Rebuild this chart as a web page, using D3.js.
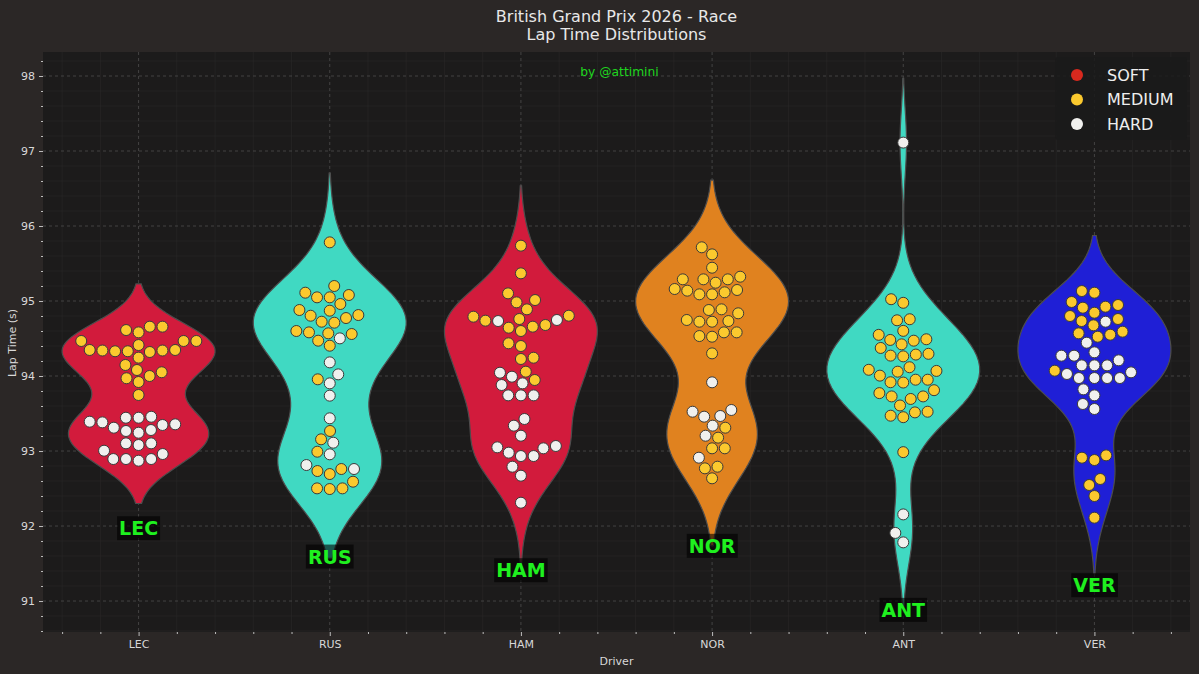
<!DOCTYPE html>
<html>
<head>
<meta charset="utf-8">
<script src="https://cdn.jsdelivr.net/npm/d3@7"></script>
<style>
  body { margin: 0; background: #2b2726; }
  svg text { font-family: "DejaVu Sans", sans-serif; }
</style>
</head>
<body>
<svg id="chart"></svg>
<script>
// ---- data ----
const drivers = ["LEC", "RUS", "HAM", "NOR", "ANT", "VER"];
const violinColors = ["#d21b3c", "#40d9c2", "#d21b3c", "#e0821f", "#40d9c2", "#1f1fd6"];
const compounds = ["SOFT", "MEDIUM", "HARD"];
const compoundColors = ["#d8291e", "#fbc92e", "#f0f0ee"];
const yTicks = [91, 92, 93, 94, 95, 96, 97, 98];

const lecMedium = [94.658, 94.658, 94.613, 94.582, 94.467, 94.467, 94.467, 94.413, 94.347, 94.34, 94.33,
  94.32, 94.33, 94.34, 94.347, 94.245, 94.147, 94.08, 94.05, 94.0, 93.97, 93.92, 93.747];
const lecHard = [93.457, 93.444, 93.444, 93.391, 93.382, 93.356, 93.347, 93.311, 93.28, 93.267, 93.244,
  93.102, 93.102, 93.08, 93.004, 92.96, 92.893, 92.893, 92.871, 92.893];

const rusMedium = [95.782, 95.2, 95.111, 95.08, 95.049, 95.049, 94.96, 94.88, 94.871, 94.813, 94.804,
  94.773, 94.724, 94.711, 94.6, 94.582, 94.569, 94.56, 94.471, 94.404, 93.956, 93.267, 93.156, 92.991,
  92.76, 92.733, 92.693, 92.591, 92.502, 92.502, 92.493];
const rusHard = [94.502, 94.182, 94.022, 93.902, 93.738, 93.436, 93.111, 92.956, 92.813, 92.76];

const hamMedium = [95.738, 95.369, 95.102, 95.013, 94.982, 94.889, 94.804, 94.791, 94.76, 94.738, 94.68,
  94.658, 94.644, 94.6, 94.436, 94.4, 94.244, 94.227, 94.058, 93.947];
const hamHard = [94.747, 94.733, 94.044, 93.991, 93.88, 93.902, 93.742, 93.742, 93.742, 93.427, 93.338,
  93.204, 93.049, 92.978, 92.933, 92.933, 93.036, 93.067, 92.791, 92.671, 92.311];

const norMedium = [95.716, 95.622, 95.444, 95.289, 95.244, 95.289, 95.324, 95.289, 95.16, 95.138, 95.089,
  95.089, 95.116, 95.147, 94.88, 94.889, 94.836, 94.747, 94.724, 94.724, 94.733, 94.533, 94.524, 94.582,
  94.582, 94.302, 93.311, 93.178, 93.036, 93.036, 92.769, 92.791, 92.636];
const norHard = [93.916, 93.524, 93.458, 93.467, 93.547, 93.338, 93.204, 92.911];

const antMedium = [95.024, 94.976, 94.757, 94.743, 94.602, 94.49, 94.481, 94.422, 94.471, 94.549, 94.296,
  94.272, 94.262, 94.286, 94.374, 94.083, 94.005, 94.068, 94.117, 93.917, 93.913, 93.951, 93.951, 94.058,
  93.811, 93.728, 93.694, 93.728, 93.772, 93.607, 93.524, 93.471, 93.451, 93.515, 92.985];
const antHard = [97.112, 92.155, 91.908, 91.782];

const verMedium = [95.111, 95.133, 94.947, 94.911, 94.844, 94.924, 94.987, 94.76, 94.733, 94.676, 94.8,
  94.569, 94.524, 94.551, 94.591, 94.071, 92.911, 92.88, 92.942, 92.627, 92.547, 92.4, 92.111];
const verHard = [94.724, 94.444, 94.316, 94.209, 94.142, 94.142, 94.142, 94.271, 94.271, 94.027, 93.973,
  93.973, 93.973, 93.973, 94.049, 93.822, 93.742, 93.627, 93.56];

const lapsByDriver = [
  [lecMedium, lecHard], [rusMedium, rusHard], [hamMedium, hamHard],
  [norMedium, norHard], [antMedium, antHard], [verMedium, verHard]
];

// ---- layout ----
const W = 1199, H = 674;
const plot = { left: 43, right: 1190, top: 52, bottom: 632 };

const svg = d3.select("#chart").attr("width", W).attr("height", H);
svg.append("rect").attr("width", W).attr("height", H).attr("fill", "#2b2726");

const x = d3.scaleLinear().domain([-0.5, 5.5]).range([plot.left, plot.right]);
const y = d3.scaleLinear().domain([90.587, 98.32]).range([plot.bottom, plot.top]);

svg.append("rect")
  .attr("x", plot.left).attr("y", plot.top)
  .attr("width", plot.right - plot.left).attr("height", plot.bottom - plot.top)
  .attr("fill", "#1c1b1b");

// grid
const xMinor = d3.range(-0.4, 5.5, 0.2).filter(v => Math.abs(v - Math.round(v)) > 0.01);
const yMinor = d3.range(90.6, 98.31, 0.2).filter(v => Math.abs(v - Math.round(v)) > 0.01);
const grid = svg.append("g");
grid.selectAll(".gxm").data(xMinor).enter().append("line")
  .attr("x1", d => x(d)).attr("x2", d => x(d)).attr("y1", plot.top).attr("y2", plot.bottom)
  .attr("stroke", "#2a2929").attr("stroke-width", 0.6);
grid.selectAll(".gym").data(yMinor).enter().append("line")
  .attr("y1", d => y(d)).attr("y2", d => y(d)).attr("x1", plot.left).attr("x2", plot.right)
  .attr("stroke", "#2a2929").attr("stroke-width", 0.6);
grid.selectAll(".gx").data(d3.range(drivers.length)).enter().append("line")
  .attr("x1", d => x(d)).attr("x2", d => x(d)).attr("y1", plot.top).attr("y2", plot.bottom)
  .attr("stroke", "#555").attr("stroke-width", 0.7).attr("stroke-dasharray", "3,3");
grid.selectAll(".gy").data(yTicks).enter().append("line")
  .attr("y1", d => y(d)).attr("y2", d => y(d)).attr("x1", plot.left).attr("x2", plot.right)
  .attr("stroke", "#555").attr("stroke-width", 0.7).attr("stroke-dasharray", "3,3");

// axes
const tickColor = "#bdbdbd";
const yAxis = svg.append("g").attr("transform", `translate(${plot.left},0)`)
  .call(d3.axisLeft(y).tickValues(yTicks).tickFormat(d3.format("d")).tickSize(4).tickPadding(4));
const yAxisMinor = svg.append("g").attr("transform", `translate(${plot.left},0)`)
  .call(d3.axisLeft(y).tickValues(yMinor).tickFormat("").tickSize(2));
const xAxis = svg.append("g").attr("transform", `translate(0,${plot.bottom})`)
  .call(d3.axisBottom(x).tickValues(d3.range(drivers.length)).tickFormat(i => drivers[i]).tickSize(4).tickPadding(4));
const xAxisMinor = svg.append("g").attr("transform", `translate(0,${plot.bottom})`)
  .call(d3.axisBottom(x).tickValues(xMinor).tickFormat("").tickSize(2));
[yAxis, yAxisMinor, xAxis, xAxisMinor].forEach(g => {
  g.select(".domain").remove();
  g.selectAll("line").attr("stroke", tickColor);
  g.selectAll("text").attr("fill", "#d8d8d8").attr("font-size", 11)
    .style("font-family", "DejaVu Sans, sans-serif");
});

svg.append("text").attr("x", 12).attr("y", 343)
  .attr("transform", "rotate(-90,12,343)")
  .attr("text-anchor", "middle").attr("dominant-baseline", "central")
  .attr("fill", "#d8d8d8").attr("font-size", 11).text("Lap Time (s)");
svg.append("text").attr("x", (plot.left + plot.right) / 2).attr("y", 665)
  .attr("text-anchor", "middle").attr("fill", "#d8d8d8").attr("font-size", 11).text("Driver");

// title
svg.append("text").attr("x", (plot.left + plot.right) / 2).attr("y", 22)
  .attr("text-anchor", "middle").attr("fill", "#e8e8e8").attr("font-size", 16)
  .text("British Grand Prix 2026 - Race");
svg.append("text").attr("x", (plot.left + plot.right) / 2).attr("y", 40)
  .attr("text-anchor", "middle").attr("fill", "#e8e8e8").attr("font-size", 16)
  .text("Lap Time Distributions");

svg.append("text").attr("x", (plot.left + plot.right) / 2 + 3).attr("y", 76)
  .attr("text-anchor", "middle").attr("fill", "#1fd61f").attr("font-size", 12.3)
  .text("by @attimini");

// ---- violins ----
function kde(vals) {
  const n = vals.length;
  const bw = d3.deviation(vals) * Math.pow(n, -0.2);
  const lo = d3.min(vals) - 2 * bw, hi = d3.max(vals) + 2 * bw;
  return d3.range(100).map(i => {
    const g = lo + (hi - lo) * i / 99;
    const dens = d3.sum(vals, v => Math.exp(-0.5 * ((g - v) / bw) ** 2)) / (n * bw * Math.sqrt(2 * Math.PI));
    return [g, dens];
  });
}

const halfWidth = x(0.4) - x(0);
const violins = svg.append("g");
lapsByDriver.forEach((sets, i) => {
  const all = sets.flat();
  const dens = kde(all);
  const maxD = d3.max(dens, d => d[1]);
  const area = d3.area()
    .y(d => y(d[0]))
    .x0(d => x(i) - d[1] / maxD * halfWidth)
    .x1(d => x(i) + d[1] / maxD * halfWidth);
  violins.append("path").datum(dens).attr("d", area)
    .attr("fill", violinColors[i]).attr("stroke", "#4d4d4d").attr("stroke-width", 1.2);
});

// ---- swarm points ----
const R = 6.05;
function swarm(points, cx) {
  const placed = [];
  points.forEach((p, k) => {
    if (k === 0) { placed.push({ ...p, px: cx }); return; }
    const nb = [];
    for (let j = placed.length - 1; j >= 0; j--) {
      if (p.py_up - placed[j].py_up < 2 * R) nb.push(placed[j]); else break;
    }
    const cands = [cx];
    let leftFirst = true;
    nb.forEach(q => {
      const dy = p.py_up - q.py_up;
      const dx = Math.sqrt(Math.max(4 * R * R - dy * dy, 0)) * 1.05;
      if (leftFirst) cands.push(q.px - dx, q.px + dx); else cands.push(q.px + dx, q.px - dx);
      leftFirst = !leftFirst;
    });
    const order = cands.map((c, idx) => [Math.abs(c - cx), idx, c])
      .sort((a, b) => a[0] - b[0] || a[1] - b[1]);
    let chosen = cx;
    for (const o of order) {
      const c = o[2];
      if (nb.every(q => (q.px - c) ** 2 + (q.py_up - p.py_up) ** 2 >= 4 * R * R - 1e-9)) { chosen = c; break; }
    }
    placed.push({ ...p, px: chosen });
  });
  return placed;
}

const dots = svg.append("g");
lapsByDriver.forEach((sets, i) => {
  const pts = [];
  sets[0].forEach(v => pts.push({ v, c: 1 }));
  sets[1].forEach(v => pts.push({ v, c: 2 }));
  pts.forEach(p => { p.py_up = -y(p.v); });
  pts.sort((a, b) => a.v - b.v);
  const placed = swarm(pts, x(i));
  dots.selectAll(null).data(placed).enter().append("circle")
    .attr("cx", d => d.px).attr("cy", d => y(d.v)).attr("r", 5.5)
    .attr("fill", d => compoundColors[d.c])
    .attr("stroke", "#3a3a3a").attr("stroke-width", 1);
});

// ---- driver labels ----
const labels = svg.append("g");
lapsByDriver.forEach((sets, i) => {
  const minV = d3.min(sets.flat());
  const g = labels.append("g");
  const t = g.append("text").attr("x", x(i)).attr("y", y(minV - 0.9))
    .attr("text-anchor", "middle").attr("dominant-baseline", "central")
    .attr("font-size", 19).attr("font-weight", "bold").attr("fill", "#1ff01f")
    .text(drivers[i]);
  const bb = t.node().getBBox();
  g.insert("rect", "text").attr("x", bb.x - 2).attr("y", bb.y - 1)
    .attr("width", bb.width + 4).attr("height", bb.height + 2)
    .attr("fill", "#000").attr("fill-opacity", 0.6);
});

// ---- legend ----
const legend = svg.append("g").attr("transform", "translate(1055,57)");
legend.append("rect").attr("width", 132).attr("height", 83).attr("rx", 3)
  .attr("fill", "#1a1a1a").attr("fill-opacity", 0.85);
const items = legend.selectAll("g.item").data(compounds).enter().append("g")
  .attr("class", "item").attr("transform", (d, k) => `translate(0,${18 + k * 24.5})`);
items.append("circle").attr("cx", 22).attr("r", 6)
  .attr("fill", (d, k) => compoundColors[k]);
items.append("text").attr("x", 52).attr("dominant-baseline", "central")
  .attr("fill", "#eeeeee").attr("font-size", 16).text(d => d);
</script>
</body>
</html>
